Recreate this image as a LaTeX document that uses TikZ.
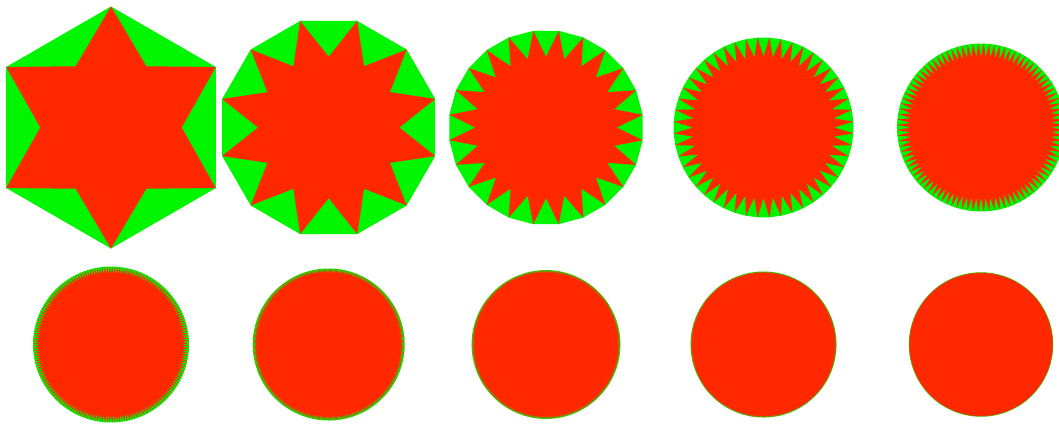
\documentclass[tikz,border=0pt]{standalone}
\usepackage{xcolor}
\usepackage{tikz}
\definecolor{polygreen}{RGB}{0,245,0}
\definecolor{starred}{RGB}{255,40,0}

\begin{document}
\begin{tikzpicture}[x=1pt,y=-1pt]

\useasboundingbox (0,0) rectangle (1059,426);
\clip (0,0) rectangle (1059,426);

% n points / outer radius / centre
\foreach \n/\R/\cx/\cy in {
    6/121/111/127.5,
    12/110.3/328.7/127.5,
    24/97.5/546/127.5,
    48/90/763.5/127.5,
    96/84/981/127.5,
    192/78/111/344.5,
    384/76/328.7/344.5,
    512/74.4/546/344.5,
    512/73/763.5/344.5,
    512/72.2/981/344.5}{
\begin{scope}[shift={(\cx,\cy)}]
\pgfmathsetmacro{\da}{360/\n}
\fill[polygreen] (0.5*\da:\R)
    \foreach \k in {1,...,\n}{ -- (\k*\da+0.5*\da:\R)} -- cycle;
\fill[starred] (0:70.7)
    \foreach \k in {1,...,\n}{ -- (\k*\da-0.5*\da:\R) -- (\k*\da:70.7)} -- cycle;
\end{scope}
}

\end{tikzpicture}
\end{document}
